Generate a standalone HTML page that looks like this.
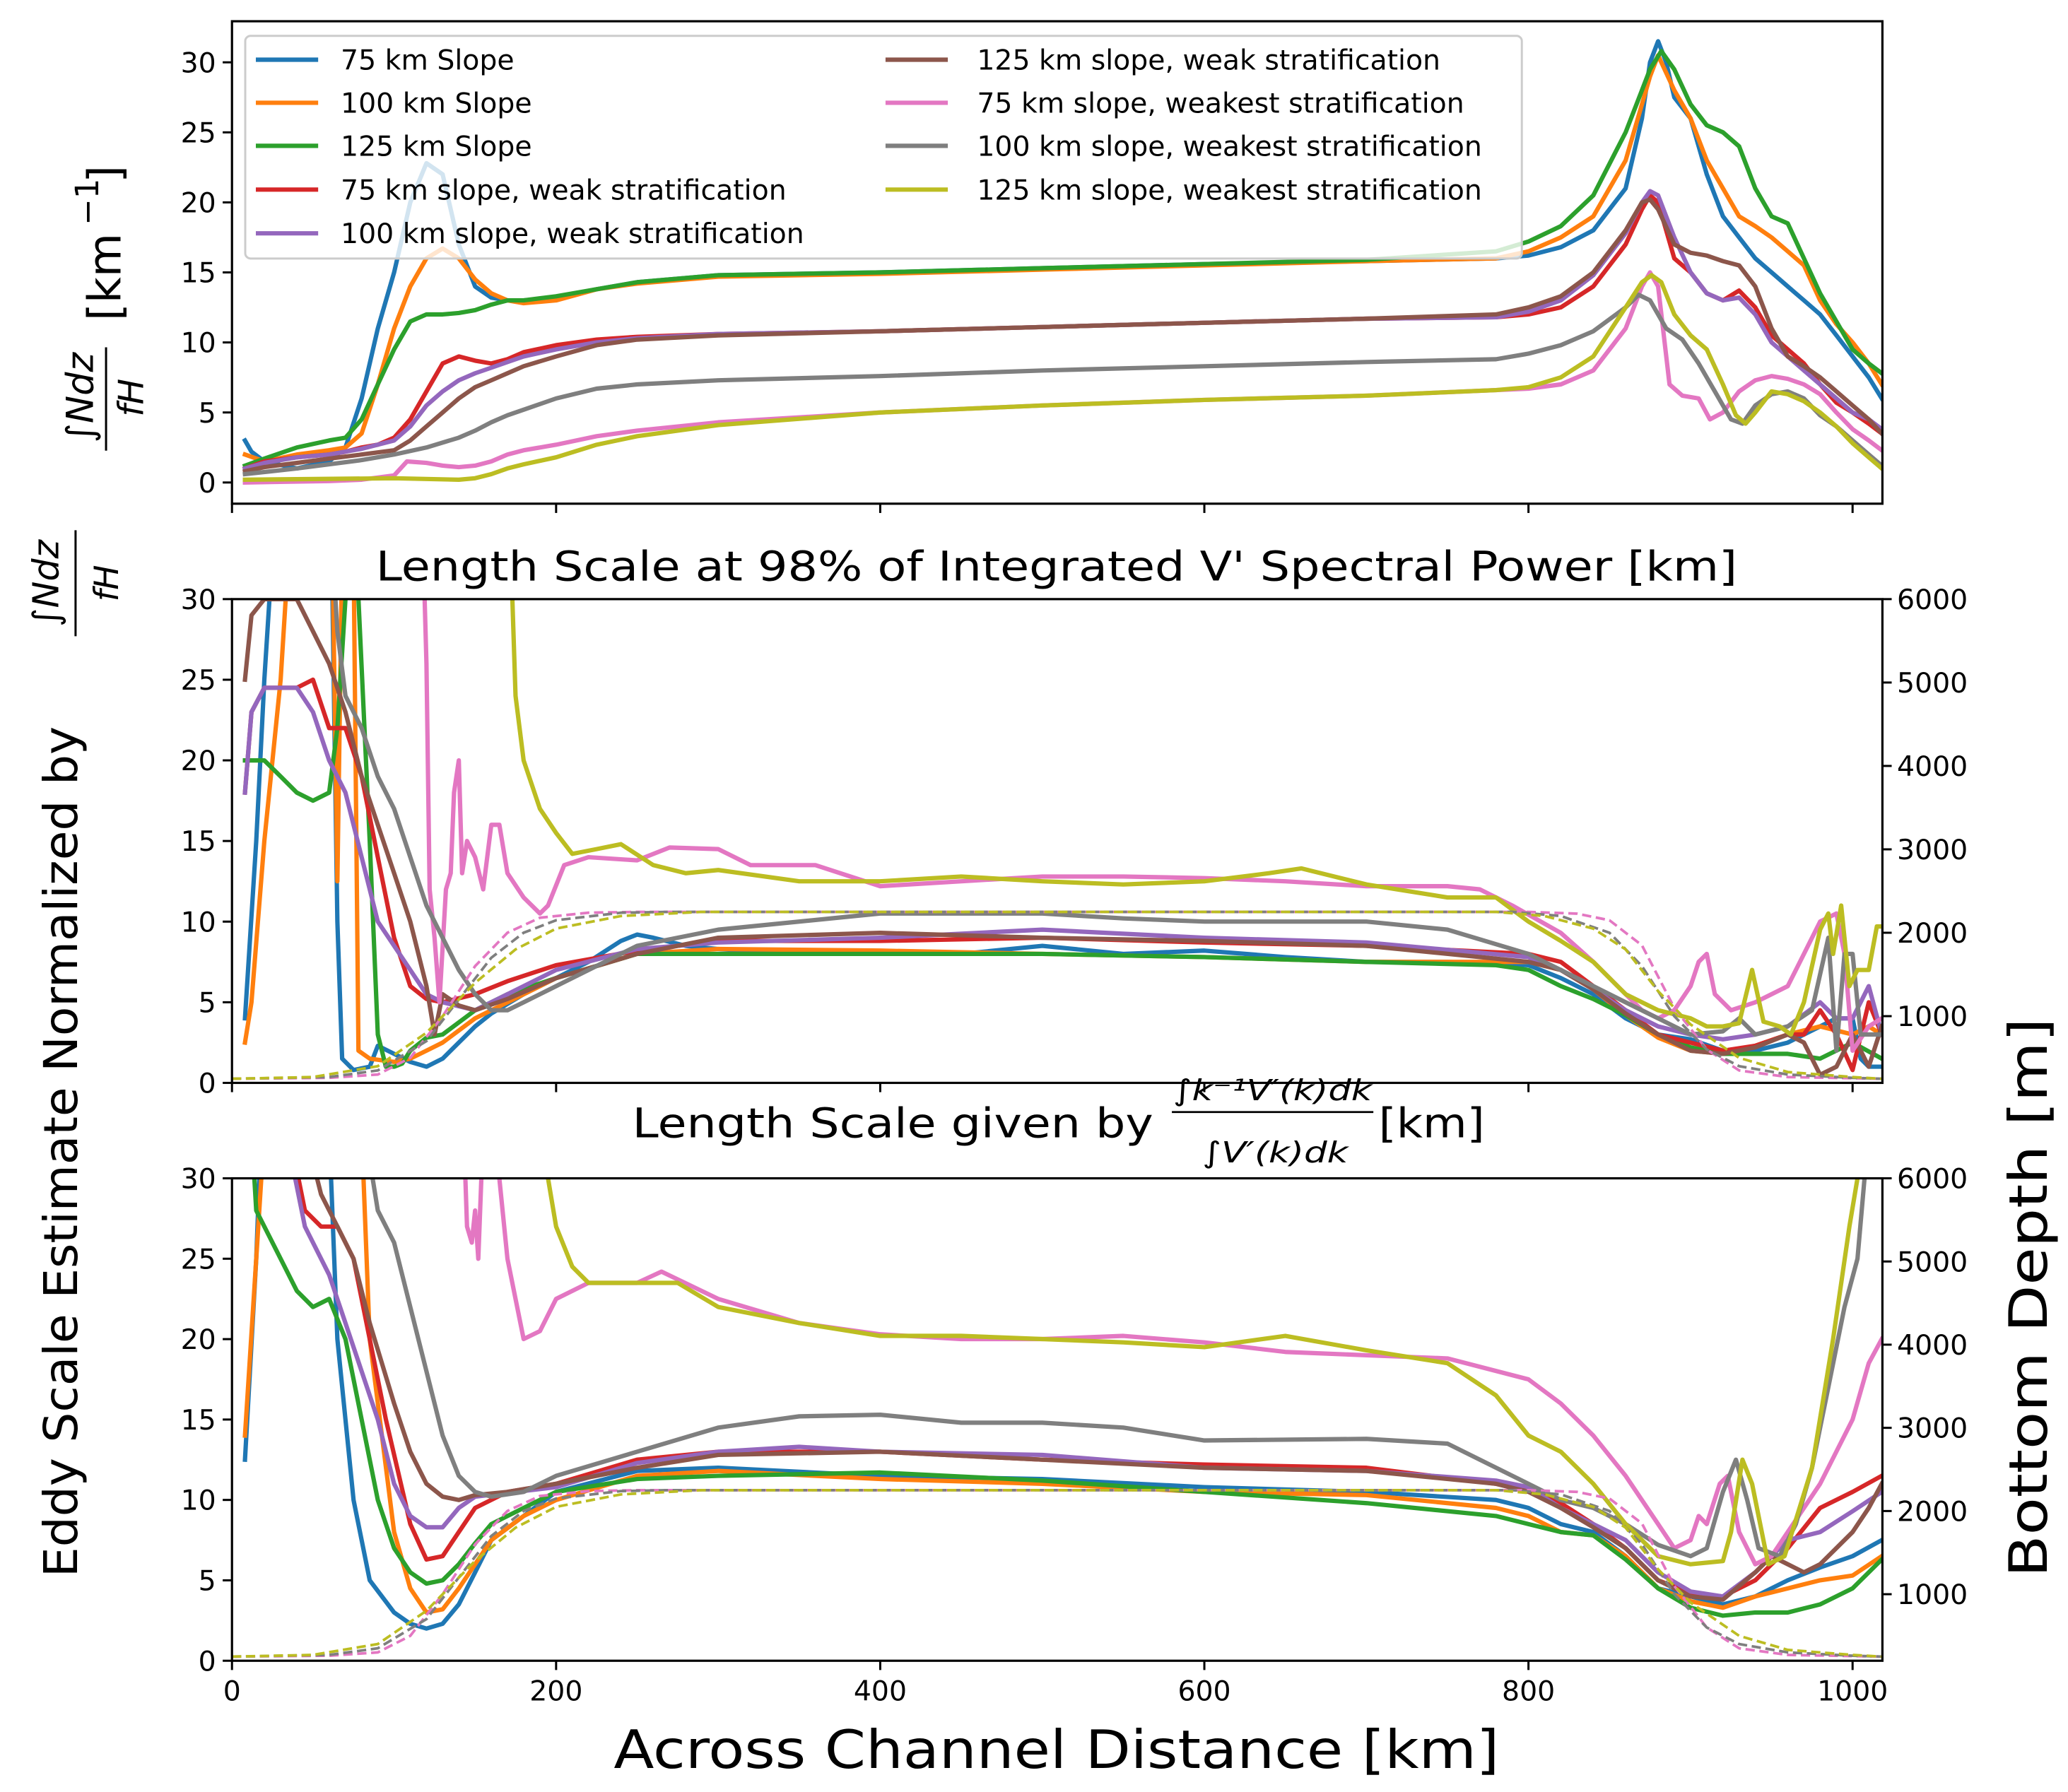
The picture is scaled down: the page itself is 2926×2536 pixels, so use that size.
<!DOCTYPE html>
<html><head><meta charset="utf-8"><title>Eddy scale chart</title>
<style>
html,body{margin:0;padding:0;background:#fff;}
svg{display:block;}
text{font-family:"DejaVu Sans","Liberation Sans",sans-serif;fill:#000;}
</style></head>
<body>
<svg id="chart" xmlns="http://www.w3.org/2000/svg" width="2926" height="2536" viewBox="0 0 1560 1352">
<defs>
<clipPath id="clipTop"><rect x="175" y="16" width="1245" height="364"/></clipPath>
<clipPath id="clipMid"><rect x="175" y="452" width="1245" height="365"/></clipPath>
<clipPath id="clipBot"><rect x="175" y="889" width="1245" height="364"/></clipPath>
</defs>
<rect x="0" y="0" width="1560" height="1352" fill="#fff"/>
<g id="layer"></g>
<!-- axis labels -->
<g transform="translate(78,200) rotate(-90)">
  <text x="-100" y="-8" font-size="28" font-style="italic" text-anchor="middle">∫Ndz</text>
  <line x1="-140" y1="2" x2="-62" y2="2" stroke="#000" stroke-width="1.6"/>
  <text x="-100" y="30" font-size="26" font-style="italic" text-anchor="middle">fH</text>
  <text x="-42" y="13" font-size="34">[km</text>
  <text x="30" y="-4" font-size="24">−1</text>
  <text x="62" y="13" font-size="34">]</text>
</g>
<g transform="translate(45,790) rotate(-90)">
  <text x="-400" y="13" font-size="35" textLength="642" lengthAdjust="spacingAndGlyphs">Eddy Scale Estimate Normalized by</text>
  <text x="350" y="-1" font-size="27" font-style="italic" text-anchor="middle">∫Ndz</text>
  <line x1="310" y1="12" x2="390" y2="12" stroke="#000" stroke-width="1.6"/>
  <text x="350" y="44" font-size="25" font-style="italic" text-anchor="middle">fH</text>
</g>
<text transform="translate(1544,979) rotate(-90)" font-size="40" text-anchor="middle" textLength="422" lengthAdjust="spacingAndGlyphs">Bottom Depth [m]</text>
<text x="797" y="1334" font-size="40" text-anchor="middle" textLength="668" lengthAdjust="spacingAndGlyphs">Across Channel Distance [km]</text>
<text x="797" y="438" font-size="31" text-anchor="middle" textLength="1027" lengthAdjust="spacingAndGlyphs">Length Scale at 98% of Integrated V' Spectral Power [km]</text>
<g>
  <text x="477" y="858" font-size="31" textLength="393" lengthAdjust="spacingAndGlyphs">Length Scale given by</text>
  <text x="960" y="830" font-size="22" font-style="italic" text-anchor="middle" textLength="150" lengthAdjust="spacingAndGlyphs">∫k⁻¹V′(k)dk</text>
  <line x1="884" y1="839" x2="1036" y2="839" stroke="#000" stroke-width="1.5"/>
  <text x="962" y="877" font-size="22" font-style="italic" text-anchor="middle" textLength="110" lengthAdjust="spacingAndGlyphs">∫V′(k)dk</text>
  <text x="1040" y="858" font-size="31" textLength="80" lengthAdjust="spacingAndGlyphs">[km]</text>
</g>
<script>
// ---------- DATA ----------
const seriesNames = ["75 km Slope","100 km Slope","125 km Slope","75 km slope, weak stratification","100 km slope, weak stratification","125 km slope, weak stratification","75 km slope, weakest stratification","100 km slope, weakest stratification","125 km slope, weakest stratification"];
const seriesColors = ["#1f77b4","#ff7f0e","#2ca02c","#d62728","#9467bd","#8c564b","#e377c2","#7f7f7f","#bcbd22"];
const xTicks = [0,200,400,600,800,1000];
const yTicksLeft = [0,5,10,15,20,25,30];
const yTicksDepth = [1000,2000,3000,4000,5000,6000];

// Top panel: integral Ndz / fH
const topBlue = [[8,3],[12,2.2],[20,1.5],[40,1],[60,1.5],[70,2.5],[80,6],[90,11],[100,15],[110,20],[120,22.8],[130,22],[140,17],[150,14],[160,13.2],[170,13],[180,13],[200,13.2],[225,13.8],[250,14.3],[300,14.8],[400,15],[500,15.3],[600,15.6],[700,15.8],[780,16],[800,16.2],[820,16.8],[840,18],[860,21],[870,26],[875,30],[880,31.5],[885,30],[890,27.5],[900,26],[910,22],[920,19],[930,17.5],[940,16],[950,15],[960,14],[970,13],[980,12],[990,10.5],[1000,9],[1010,7.5],[1018,6]];
const topOrange = [[8,2],[20,1.5],[40,2],[60,2.3],[70,2.5],[80,3.5],[90,7],[100,11],[110,14],[120,16],[130,16.7],[140,16],[150,14.5],[160,13.5],[170,13],[180,12.8],[200,13],[225,13.8],[250,14.2],[300,14.7],[400,14.9],[500,15.2],[600,15.5],[700,15.8],[780,16],[800,16.5],[820,17.5],[840,19],[860,23],[870,27],[875,29],[880,30.5],[890,28],[900,26],[910,23],[920,21],[930,19],[940,18.3],[950,17.5],[960,16.5],[970,15.5],[980,13],[990,11.3],[1000,10],[1010,8.5],[1018,7]];
const topGreen = [[8,1.2],[20,1.7],[40,2.5],[60,3],[70,3.2],[80,4.5],[90,7],[100,9.5],[110,11.5],[120,12],[130,12],[140,12.1],[150,12.3],[160,12.7],[170,13],[180,13],[200,13.3],[225,13.8],[250,14.3],[300,14.8],[400,15],[500,15.3],[600,15.6],[700,15.9],[780,16.5],[800,17.2],[820,18.3],[840,20.5],[860,25],[870,28],[875,29.5],[882,30.8],[890,29.5],[900,27],[910,25.5],[920,25],[930,24],[940,21],[950,19],[960,18.5],[970,16],[980,13.5],[990,11.5],[1000,9.5],[1010,8.5],[1018,7.8]];
const topRed = [[8,1],[20,1.5],[40,1.8],[60,2],[70,2.2],[80,2.5],[90,2.7],[100,3.2],[110,4.5],[120,6.5],[130,8.5],[140,9],[150,8.7],[160,8.5],[170,8.8],[180,9.3],[200,9.8],[225,10.2],[250,10.4],[300,10.6],[400,10.8],[500,11.1],[600,11.4],[700,11.7],[780,11.8],[800,12],[820,12.5],[840,14],[860,17],[870,19.5],[875,20.5],[880,20],[890,16],[900,15],[910,13.5],[920,13],[930,13.7],[940,12.5],[950,10.5],[960,9.5],[970,8.5],[980,7],[990,5.7],[1000,5],[1010,4.2],[1018,3.5]];
const topPurple = [[8,1],[20,1.4],[40,1.8],[60,2],[80,2.4],[100,3],[110,4],[120,5.5],[130,6.5],[140,7.3],[150,7.8],[160,8.2],[170,8.6],[180,9],[200,9.5],[225,10],[250,10.3],[300,10.6],[400,10.8],[500,11.1],[600,11.4],[700,11.7],[780,11.8],[800,12.2],[820,13],[840,14.8],[860,17.8],[870,20],[875,20.8],[880,20.5],[890,17.5],[900,15],[910,13.5],[920,13],[930,13.2],[940,12],[950,10],[960,9],[970,8],[980,7],[990,6],[1000,5],[1010,4.5],[1018,3.8]];
const topBrown = [[8,0.8],[20,1.1],[40,1.4],[60,1.7],[80,2],[100,2.3],[110,3],[120,4],[130,5],[140,6],[150,6.8],[160,7.3],[170,7.8],[180,8.3],[200,9],[225,9.8],[250,10.2],[300,10.5],[400,10.8],[500,11.1],[600,11.4],[700,11.7],[780,12],[800,12.5],[820,13.3],[840,15],[860,18],[870,20],[875,20.2],[880,19.5],[890,17],[900,16.4],[910,16.2],[920,15.8],[930,15.5],[940,14],[950,11],[960,9],[970,8.3],[980,7.5],[990,6.5],[1000,5.5],[1010,4.5],[1018,3.5]];
const topPink = [[8,0],[60,0.1],[80,0.2],[100,0.5],[108,1.5],[120,1.4],[130,1.2],[140,1.1],[150,1.2],[160,1.5],[170,2],[180,2.3],[200,2.7],[225,3.3],[250,3.7],[300,4.3],[400,5],[500,5.5],[600,5.9],[700,6.2],[780,6.6],[800,6.7],[820,7],[840,8],[860,11],[870,14],[875,15],[880,14],[887,7],[895,6.2],[905,6],[912,4.5],[920,5],[930,6.5],[940,7.3],[950,7.6],[960,7.4],[970,7],[980,6.3],[990,5],[1000,3.8],[1010,3],[1018,2.3]];
const topGrey = [[8,0.6],[40,1],[60,1.3],[80,1.6],[100,2],[120,2.5],[140,3.2],[150,3.7],[160,4.3],[170,4.8],[180,5.2],[200,6],[225,6.7],[250,7],[300,7.3],[400,7.6],[500,8],[600,8.3],[700,8.6],[780,8.8],[800,9.2],[820,9.8],[840,10.8],[860,12.5],[868,13.4],[875,13],[885,11],[895,10.2],[905,8.5],[915,6.5],[925,4.5],[932,4.2],[940,5.5],[950,6.3],[960,6.5],[970,6],[980,4.8],[990,4],[1000,3],[1010,2],[1018,1.2]];
const topOlive = [[8,0.2],[100,0.3],[140,0.2],[150,0.3],[160,0.6],[170,1],[180,1.3],[200,1.8],[225,2.7],[250,3.3],[300,4.1],[400,5],[500,5.5],[600,5.9],[700,6.2],[780,6.6],[800,6.8],[820,7.5],[840,9],[860,12.5],[870,14.3],[876,14.8],[882,14.3],[890,12],[900,10.5],[910,9.5],[920,7],[928,4.8],[934,4.2],[940,5],[950,6.5],[960,6.3],[970,5.8],[980,5],[990,4],[1000,2.8],[1010,1.8],[1018,1]];

// Middle panel: 98% spectral power length scale
const midBlue = [[8,4],[15,15],[20,25],[25,33],[60,33],[62,30],[65,10],[68,1.5],[75,0.8],[85,1],[90,2.3],[100,1.8],[110,1.3],[120,1],[130,1.5],[140,2.5],[150,3.5],[160,4.3],[180,5.5],[200,6.5],[220,7.5],[240,8.8],[250,9.2],[260,9],[280,8.5],[300,8.3],[350,8],[400,8],[450,8],[500,8.5],[550,8],[600,8.2],[650,7.8],[700,7.5],[750,7.5],[800,7.3],[820,6.5],[840,5.5],[860,4],[880,3],[900,2.7],[920,2],[940,2],[960,2.5],[980,3.5],[990,4],[1000,4],[1005,1.5],[1010,1],[1018,1]];
const midOrange = [[8,2.5],[12,5],[20,15],[30,25],[35,33],[62,33],[65,12.5],[68,33],[75,33],[78,2],[85,1.5],[100,1.3],[110,1.5],[120,2],[130,2.5],[150,4],[170,5],[200,6.5],[250,8],[300,8.3],[400,8.2],[500,8],[600,7.8],[700,7.5],[800,7.5],[820,7],[840,5.8],[860,4.2],[880,2.8],[900,2],[920,1.8],[940,2.3],[960,3],[980,3.5],[1000,3],[1010,3.5],[1018,3]];
const midGreen = [[8,20],[20,20],[30,19],[40,18],[50,17.5],[60,18],[65,22],[70,30],[72,33],[78,30],[85,15],[90,3],[95,1],[100,1],[105,1.2],[110,2],[120,2.8],[130,3],[150,4.5],[170,5.5],[200,6.5],[250,8],[300,8],[400,8],[500,8],[600,7.8],[700,7.5],[780,7.3],[800,7],[820,6],[840,5.2],[860,4.2],[880,3],[900,2.2],[920,1.8],[940,1.8],[960,1.8],[980,1.5],[1000,2.5],[1018,1.5]];
const midRed = [[8,18],[12,23],[20,24.5],[30,24.5],[40,24.5],[50,25],[60,22],[70,22],[80,19],[90,14],[100,9],[110,6],[120,5.2],[130,5],[150,5.5],[170,6.3],[200,7.3],[250,8.2],[300,8.8],[400,8.8],[500,9],[600,8.7],[700,8.5],[800,8],[820,7.5],[840,6],[860,4.5],[880,3],[900,2.5],[920,2],[940,2.3],[960,3],[970,3],[980,4.5],[990,3],[1000,0.8],[1010,5],[1018,3]];
const midPurple = [[8,18],[12,23],[20,24.5],[30,24.5],[40,24.5],[50,23],[60,20],[70,18],[80,14],[90,10],[100,8.5],[110,7],[120,5.5],[130,5],[150,4.5],[160,5],[170,5.5],[200,7],[250,8.3],[300,8.7],[400,9],[500,9.5],[600,9],[700,8.7],[800,7.8],[820,7],[840,5.8],[860,4.5],[880,3.5],[900,3],[920,2.7],[940,3],[960,3.5],[980,5],[990,4],[1000,4],[1010,6],[1018,3]];
const midBrown = [[8,25],[12,29],[20,30],[40,30],[50,28],[60,26],[70,23],[80,19],[90,16],[100,13],[110,10],[120,6],[125,3],[130,5.5],[140,4.8],[150,4.5],[170,5.2],[200,6.5],[250,8],[300,9],[400,9.3],[500,9],[600,8.8],[700,8.5],[800,7.5],[820,7],[840,5.8],[860,4.3],[880,3],[900,2],[920,1.8],[940,2.2],[960,3],[970,2.5],[980,0.5],[990,1],[1000,3],[1010,1],[1018,3.5]];
const midPink = [[118,33],[120,26],[122,12],[125,9],[128,5],[132,12],[135,13],[137,18],[140,20],[142,13],[145,15],[150,14],[155,12],[160,16],[165,16],[170,13],[180,11.5],[190,10.5],[195,11],[205,13.5],[220,14],[250,13.8],[270,14.6],[300,14.5],[320,13.5],[360,13.5],[400,12.2],[450,12.5],[500,12.8],[550,12.8],[600,12.7],[650,12.5],[700,12.2],[750,12.2],[770,12],[790,11],[820,9.3],[840,7.5],[860,5.5],[870,4.5],[880,4],[890,4.5],[900,6],[905,7.5],[910,8],[915,5.5],[925,4.5],[940,5],[960,6],[970,8],[980,10],[990,10.5],[995,8],[1000,2],[1010,3.5],[1018,4]];
const midGrey = [[62,33],[65,28],[70,24],[80,22],[90,19],[100,17],[110,14],[120,11],[130,9],[140,7],[150,5.5],[160,4.5],[170,4.5],[180,5],[200,6],[250,8.5],[300,9.5],[400,10.5],[450,10.5],[500,10.5],[550,10.2],[600,10],[700,10],[750,9.5],[800,8],[840,6],[860,5],[880,4],[900,3],[920,3.2],[930,4],[940,3],[960,3.5],[975,4.5],[985,9],[990,2],[995,8],[1000,8],[1005,3],[1018,3]];
const midOlive = [[172,33],[175,24],[180,20],[190,17],[200,15.5],[210,14.2],[225,14.5],[240,14.8],[260,13.5],[280,13],[300,13.2],[350,12.5],[400,12.5],[450,12.8],[500,12.5],[550,12.3],[600,12.5],[640,13],[660,13.3],[700,12.3],[750,11.5],[780,11.5],[800,10],[820,8.8],[840,7.5],[860,5.5],[880,4.5],[900,4],[910,3.5],[920,3.5],[930,3.7],[938,7],[945,3.8],[955,3.5],[962,3],[970,5],[980,9.5],[985,10.5],[988,8],[993,11],[998,6],[1003,7],[1010,7],[1015,9.7],[1018,9.7]];

// Bottom panel: integral k^-1 V' / integral V' length scale
const botBlue = [[8,12.5],[15,25],[18,33],[60,33],[65,20],[75,10],[85,5],[100,3],[110,2.3],[120,2],[130,2.3],[140,3.5],[150,5.5],[160,7.5],[180,9],[200,10.5],[250,11.8],[300,12],[400,11.5],[500,11.3],[600,10.8],[700,10.5],[780,10],[800,9.5],[820,8.5],[840,8],[860,6.5],[880,4.5],[900,4],[920,3.5],[940,4],[960,5],[980,5.8],[1000,6.5],[1018,7.5]];
const botOrange = [[8,14],[15,25],[20,33],[80,33],[85,20],[100,8],[110,4.5],[120,3],[130,3.2],[140,4.5],[150,6],[160,7.5],[180,9],[200,10],[250,11.5],[300,11.8],[400,11.3],[500,11],[600,10.5],[700,10.3],[780,9.5],[800,9],[820,8],[840,7.8],[860,6.5],[880,4.5],[900,3.7],[920,3.3],[940,4],[960,4.5],[980,5],[1000,5.3],[1018,6.5]];
const botGreen = [[12,33],[15,28],[20,27],[30,25],[40,23],[50,22],[60,22.5],[70,20],[80,15],[90,10],[100,7],[110,5.5],[120,4.8],[130,5],[140,6],[150,7.3],[160,8.5],[180,9.5],[200,10.5],[250,11.3],[300,11.5],[400,11.7],[500,11.2],[600,10.5],[700,9.8],[780,9],[800,8.5],[820,8],[840,7.8],[860,6.3],[880,4.5],[900,3.3],[920,2.8],[940,3],[960,3],[980,3.5],[1000,4.5],[1018,6.3]];
const botRed = [[35,33],[45,28],[55,27],[65,27],[75,25],[85,20],[95,15],[110,8.5],[120,6.3],[130,6.5],[140,8],[150,9.5],[170,10.5],[200,11],[250,12.5],[300,13],[400,13],[500,12.5],[600,12.2],[700,12],[780,11],[800,10.8],[820,9.8],[840,8.5],[860,7],[880,5],[900,4.2],[920,4],[940,5],[960,7],[980,9.5],[1000,10.5],[1018,11.5]];
const botPurple = [[33,33],[45,27],[60,24],[70,21],[80,18],[90,15],[100,11],[110,9],[120,8.3],[130,8.3],[140,9.5],[150,10.2],[200,10.8],[250,12.3],[300,13],[350,13.3],[400,13],[500,12.8],[600,12],[700,11.8],[780,11.2],[800,10.8],[820,9.5],[840,8.5],[860,7.5],[880,5.5],[900,4.3],[920,4],[940,5.5],[960,7.5],[980,8],[1000,9.3],[1018,10.5]];
const botBrown = [[45,33],[55,29],[65,27],[75,25],[85,21],[100,16],[110,13],[120,11],[130,10.2],[140,10],[150,10.3],[170,10.5],[200,11],[250,12],[300,12.8],[400,13],[500,12.5],[600,12],[700,11.8],[780,11],[800,10.5],[820,9.5],[840,8.3],[860,7],[880,5],[900,4],[920,3.8],[940,5.5],[950,6.5],[960,6],[970,5.5],[980,6],[1000,8],[1010,9.5],[1018,11]];
const botPink = [[143,33],[145,27],[148,26],[150,28],[152,25],[155,33],[162,33],[170,25],[180,20],[190,20.5],[200,22.5],[220,23.5],[250,23.5],[265,24.2],[300,22.5],[350,21],[400,20.3],[450,20],[500,20],[550,20.2],[600,19.8],[650,19.2],[700,19],[750,18.8],[800,17.5],[820,16],[840,14],[860,11.5],[880,8.5],[890,7],[900,7.5],[905,9],[910,8.5],[918,11],[923,11.5],[930,8],[940,6],[950,6.5],[960,8],[980,11],[1000,15],[1010,18.5],[1018,20]];
const botGrey = [[82,33],[90,28],[100,26],[110,22],[120,18],[130,14],[140,11.5],[150,10.5],[160,10.2],[180,10.5],[200,11.5],[250,13],[300,14.5],[350,15.2],[400,15.3],[450,14.8],[500,14.8],[550,14.5],[600,13.7],[700,13.8],[750,13.5],[800,11],[820,10],[840,9.5],[860,8.5],[880,7.2],[900,6.5],[910,7],[920,10.5],[928,12.5],[935,10],[942,7],[955,6.5],[965,8.5],[975,12],[985,17],[995,22],[1003,25],[1010,33]];
const botOlive = [[190,33],[200,27],[210,24.5],[220,23.5],[250,23.5],[275,23.5],[300,22],[350,21],[400,20.2],[450,20.2],[500,20],[550,19.8],[600,19.5],[650,20.2],[700,19.3],[750,18.5],[780,16.5],[800,14],[820,13],[840,11],[860,8.5],[880,6.5],[900,6],[920,6.2],[925,8],[932,12.5],[938,11],[948,6],[958,6.5],[975,12],[988,20],[998,27],[1008,33]];

// Bottom depth profiles (right axis, metres)
const depth75 = [[0,250],[60,260],[90,300],[110,500],[130,1000],[150,1600],[170,2000],[190,2180],[220,2240],[250,2250],[800,2250],[830,2230],[850,2150],[870,1850],[890,1100],[910,600],[930,350],[960,270],[1018,250]];
const depth100 = [[0,250],[60,270],[90,350],[120,700],[140,1200],[160,1700],[180,2000],[200,2150],[240,2240],[270,2250],[790,2250],[820,2200],[850,2000],[870,1600],[890,1000],[910,600],[930,400],[960,300],[1000,260],[1018,250]];
const depth125 = [[0,250],[50,270],[90,400],[120,800],[150,1400],[175,1800],[200,2050],[240,2200],[290,2250],[780,2250],[810,2200],[840,2050],[860,1800],[880,1300],[900,900],[930,500],[960,330],[1000,270],[1018,250]];
const depthColors = ["#e377c2","#7f7f7f","#bcbd22"];

// ---------- AXES ----------
const X0 = 175, XR = 1420, KM_PX = 1.2225;
function xScale(km){ return X0 + km*KM_PX; }
const panels = [
  {name:"top", top:16, bottom:380, y0:364, unit:10.567, clip:"clipTop", ticks:yTicksLeft, data:[topBlue,topOrange,topGreen,topRed,topPurple,topBrown,topPink,topGrey,topOlive], depth:false, xlabels:false},
  {name:"middle", top:452, bottom:817, y0:817, unit:12.167, clip:"clipMid", ticks:yTicksLeft, data:[midBlue,midOrange,midGreen,midRed,midPurple,midBrown,midPink,midGrey,midOlive], depth:true, xlabels:false},
  {name:"bottom", top:889, bottom:1253, y0:1253, unit:12.133, clip:"clipBot", ticks:yTicksLeft, data:[botBlue,botOrange,botGreen,botRed,botPurple,botBrown,botPink,botGrey,botOlive], depth:true, xlabels:true}
];
const NS = "http://www.w3.org/2000/svg";
const layer = document.getElementById("layer");
function mk(tag, attrs, parent){
  const e = document.createElementNS(NS, tag);
  for (const k in attrs) e.setAttribute(k, attrs[k]);
  (parent||layer).appendChild(e);
  return e;
}
const seriesKeys = ["75km-slope","100km-slope","125km-slope","75km-weak","100km-weak","125km-weak","75km-weakest","100km-weakest","125km-weakest"];

panels.forEach(p => {
  const yScale = v => p.y0 - v*p.unit;
  const g = mk("g", {});
  
  
  const plot = mk("g", {"clip-path":"url(#"+p.clip+")"}, g);
  p.data.forEach((pts, i) => {
    const d = pts.map((q,j)=> (j?"L":"M") + xScale(q[0]).toFixed(1) + " " + yScale(q[1]).toFixed(1)).join(" ");
    const path = mk("path", {d:d, fill:"none", stroke:seriesColors[i], "stroke-width":"3.3", "stroke-linejoin":"round", "stroke-linecap":"square"}, plot);
    
    
  });
  if (p.depth) {
    const ydScale = m => p.bottom - (m-200)/5800*(p.bottom-p.top);
    [depth75, depth100, depth125].forEach((pts, i) => {
      const d = pts.map((q,j)=> (j?"L":"M") + xScale(q[0]).toFixed(1) + " " + ydScale(q[1]).toFixed(1)).join(" ");
      const path = mk("path", {d:d, fill:"none", stroke:depthColors[i], "stroke-width":"2", "stroke-dasharray":"7 3.5"}, plot);
      
      
    });
    yTicksDepth.forEach(t => {
      const y = ydScale(t);
      mk("line", {x1:XR, y1:y, x2:XR+7, y2:y, stroke:"#000", "stroke-width":"1.6"}, g);
      const tx = mk("text", {x:XR+11, y:y+7.5, "font-size":"21"}, g);
      tx.textContent = t;
      
      
    });
  }
  const frame = mk("rect", {x:X0, y:p.top, width:XR-X0, height:p.bottom-p.top, fill:"none", stroke:"#000", "stroke-width":"1.7"}, g);
  
  
  p.ticks.forEach(t => {
    const y = yScale(t);
    mk("line", {x1:X0-7, y1:y, x2:X0, y2:y, stroke:"#000", "stroke-width":"1.6"}, g);
    const tx = mk("text", {x:X0-12, y:y+7.5, "font-size":"21", "text-anchor":"end"}, g);
    tx.textContent = t;
    
    
  });
  xTicks.forEach(t => {
    const x = xScale(t);
    mk("line", {x1:x, y1:p.bottom, x2:x, y2:p.bottom+7, stroke:"#000", "stroke-width":"1.6"}, g);
    if (p.xlabels) {
      const tx = mk("text", {x:x, y:p.bottom+30, "font-size":"21", "text-anchor":"middle"}, g);
      tx.textContent = t;
      
      
    }
  });
});

// ---------- LEGEND ----------
const leg = mk("g", {});


mk("rect", {x:185, y:27, width:963, height:168, rx:4, fill:"#fff", "fill-opacity":"0.8", stroke:"#cccccc", "stroke-width":"1.6"}, leg);
const rowsY = [45,77.5,110,143,176];
seriesNames.forEach((nm, i) => {
  const col = i < 5 ? 0 : 1;
  const row = i < 5 ? i : i-5;
  const lx = col ? 668 : 193, tx = col ? 737 : 257;
  const y = rowsY[row];
  const entry = mk("g", {}, leg);
  
  
  mk("line", {x1:lx, y1:y, x2:lx+47, y2:y, stroke:seriesColors[i], "stroke-width":"3.3"}, entry);
  const t = mk("text", {x:tx, y:y+7.5, "font-size":"21"}, entry);
  t.textContent = nm;
});
</script>
</svg>
</body></html>
